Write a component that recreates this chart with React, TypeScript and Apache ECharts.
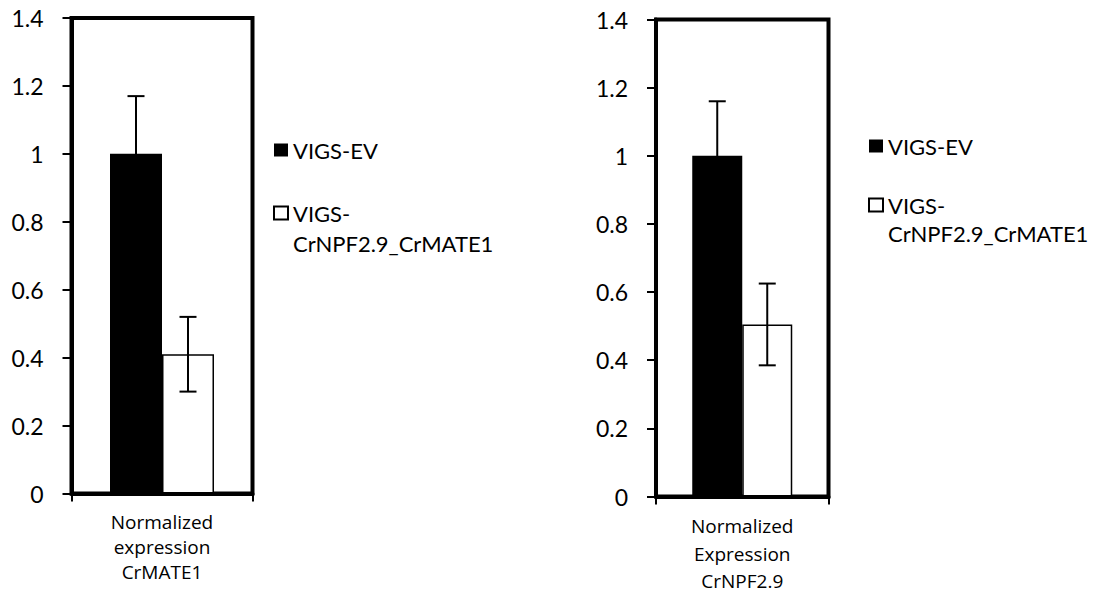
import React, { useEffect, useRef } from "react";
import * as echarts from "echarts";

// ---- data ----
const categoriesLeft = ["Normalized\nexpression\nCrMATE1"];
const categoriesRight = ["Normalized\nExpression\nCrNPF2.9"];
const seriesNames = ["VIGS-EV", "VIGS-CrNPF2.9_CrMATE1"];

const evLeft = [1.0];
const koLeft = [0.41];
const evErrLeft = [0.17];
const koErrLeft = [0.11];

const evRight = [1.0];
const koRight = [0.505];
const evErrRight = [0.16];
const koErrRight = [0.12];

const yMin = 0;
const yMax = 1.4;
const yInterval = 0.2;

// ---- layout / style ----
const LEFT_BAR_W = 52;
const RIGHT_BAR_W = 50;
const TICK_FONT = "Lato";
const CAT_FONT = "Open Sans";

function errorData(ev: number[], evErr: number[], ko: number[], koErr: number[]) {
  const out: number[][] = [];
  ev.forEach((v, i) => out.push([i, -1, v - evErr[i], v + evErr[i]]));
  ko.forEach((v, i) => out.push([i, 1, v - koErr[i], v + koErr[i]]));
  return out;
}

function makeErrorRender(barW: number) {
  return (params: any, api: any) => {
    const cat = api.value(0);
    const side = api.value(1);
    const lo = api.coord([cat, api.value(2)]);
    const hi = api.coord([cat, api.value(3)]);
    const cx = lo[0] + (side * barW) / 2;
    const cap = 8.5;
    const style = { stroke: "#000", lineWidth: 2 };
    return {
      type: "group",
      children: [
        { type: "line", shape: { x1: cx, y1: lo[1], x2: cx, y2: hi[1] }, style },
        { type: "line", shape: { x1: cx - cap, y1: hi[1], x2: cx + cap, y2: hi[1] }, style },
        { type: "line", shape: { x1: cx - cap, y1: lo[1], x2: cx + cap, y2: lo[1] }, style },
      ],
    };
  };
}

function yAxisCfg(gridIndex: number) {
  return {
    type: "value",
    gridIndex,
    min: yMin,
    max: yMax,
    interval: yInterval,
    axisLine: { show: true, lineStyle: { color: "#000", width: 4 } },
    axisTick: { show: true, length: 9, lineStyle: { color: "#000", width: 2 } },
    axisLabel: {
      margin: 28,
      color: "#000",
      fontFamily: TICK_FONT,
      fontSize: 23,
      formatter: (v: number) => String(Math.round(v * 10) / 10),
    },
    splitLine: { show: false },
  };
}

function xAxisCfg(gridIndex: number, data: string[], lineHeight: number) {
  return {
    type: "category",
    gridIndex,
    data,
    z: 5,
    axisLine: { show: true, lineStyle: { color: "#000", width: 4 } },
    axisTick: { show: true, length: 8, lineStyle: { color: "#000", width: 2 } },
    axisLabel: {
      margin: 16,
      color: "#000",
      fontFamily: CAT_FONT,
      fontSize: 19,
      lineHeight,
    },
  };
}

function legendCfg(left: number, top: number, lineHeight: number) {
  return {
    orient: "vertical",
    left,
    top,
    padding: 0,
    itemGap: 3,
    itemWidth: 14,
    itemHeight: 13,
    icon: "rect",
    data: seriesNames,
    formatter: (name: string) =>
      name === "VIGS-EV" ? name : "\n" + name.replace("VIGS-", "VIGS-\n"),
    textStyle: {
      color: "#000",
      fontFamily: TICK_FONT,
      fontSize: 22,
      lineHeight,
    },
  };
}

export default function App() {
  const ref = useRef<HTMLDivElement>(null);

  useEffect(() => {
    document.body.style.margin = "0";
    if (!ref.current) return;
    const chart = echarts.init(ref.current, undefined, { renderer: "svg" });

    const evStyle = { color: "#000" };
    const koStyle = { color: "#fff", borderColor: "#000", borderWidth: 1.5 };

    chart.setOption({
      animation: false,
      backgroundColor: "#fff",
      grid: [
        { left: 71.5, top: 18, width: 181, height: 475.5, show: true, borderColor: "#000", borderWidth: 4, backgroundColor: "transparent" },
        { left: 656, top: 19.5, width: 172.5, height: 477, show: true, borderColor: "#000", borderWidth: 4, backgroundColor: "transparent" },
      ],
      legend: [legendCfg(273, 135, 30), legendCfg(868, 132, 28)],
      xAxis: [xAxisCfg(0, categoriesLeft, 25), xAxisCfg(1, categoriesRight, 27.5)],
      yAxis: [yAxisCfg(0), yAxisCfg(1)],
      series: [
        { name: seriesNames[0], type: "bar", xAxisIndex: 0, yAxisIndex: 0, data: evLeft, barWidth: LEFT_BAR_W, barGap: "0%", itemStyle: evStyle },
        { name: seriesNames[1], type: "bar", xAxisIndex: 0, yAxisIndex: 0, data: koLeft, barWidth: LEFT_BAR_W, barGap: "0%", itemStyle: koStyle },
        { name: seriesNames[0], type: "bar", xAxisIndex: 1, yAxisIndex: 1, data: evRight, barWidth: RIGHT_BAR_W, barGap: "0%", itemStyle: evStyle },
        { name: seriesNames[1], type: "bar", xAxisIndex: 1, yAxisIndex: 1, data: koRight, barWidth: RIGHT_BAR_W, barGap: "0%", itemStyle: koStyle },
        {
          type: "custom",
          xAxisIndex: 0,
          yAxisIndex: 0,
          z: 4,
          renderItem: makeErrorRender(LEFT_BAR_W),
          encode: { x: 0, y: [2, 3] },
          data: errorData(evLeft, evErrLeft, koLeft, koErrLeft),
        },
        {
          type: "custom",
          xAxisIndex: 1,
          yAxisIndex: 1,
          z: 4,
          renderItem: makeErrorRender(RIGHT_BAR_W),
          encode: { x: 0, y: [2, 3] },
          data: errorData(evRight, evErrRight, koRight, koErrRight),
        },
      ],
    });

    return () => chart.dispose();
  }, []);

  return <div ref={ref} style={{ width: 1095, height: 597 }} />;
}
